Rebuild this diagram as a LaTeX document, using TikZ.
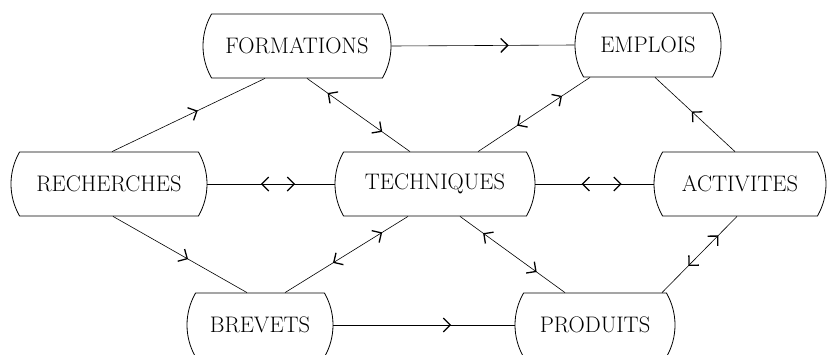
\documentclass[tikz,border=0pt]{standalone}
\usepackage{fontspec}
\usetikzlibrary{arrows.meta,shapes.misc,decorations.markings}

\begin{document}
\begin{tikzpicture}[x=1pt, y=-1pt,
  box/.style={draw, rounded rectangle, rounded rectangle arc length=60, minimum height=64pt, inner sep=2pt, line width=0.8pt, font=\fontsize{22.5}{26}\selectfont},
  link/.style={line width=0.6pt},
  fw/.style={postaction={decorate, decoration={markings, mark=at position #1 with {\arrow[line width=1.3pt]{Straight Barb[length=7pt,width=14pt]}}}}},
  bw/.style={postaction={decorate, decoration={markings, mark=at position #1 with {\arrowreversed[line width=1.3pt]{Straight Barb[length=7pt,width=14pt]}}}}}]
  \useasboundingbox (0,0) rectangle (829,354);
  \node[box, minimum width=192pt] (form) at (297,46) {FORMATIONS};
  \node[box, minimum width=150pt] (empl) at (648,45) {EMPLOIS};
  \node[box, minimum width=200pt] (rech) at (109,184) {RECHERCHES};
  \node[box, minimum width=204pt] (tech) at (435,184) {TECHNIQUES};
  \node[box, minimum width=176pt] (acti) at (740,184) {ACTIVITES};
  \node[box, minimum width=150pt] (brev) at (260,325) {BREVETS};
  \node[box, minimum width=164pt] (prod) at (595,325) {PRODUITS};
  \draw[link, fw=0.64] (form.east) -- (empl.west);
  \draw[link, fw=0.56] ([xshift=3pt]rech.north) -- ([xshift=-32pt]form.south);
  \draw[link, bw=0.2, fw=0.73] ([xshift=10pt]form.south) -- ([xshift=-25pt]tech.north);
  \draw[link, bw=0.35, fw=0.75] ([xshift=43pt]tech.north) -- ([xshift=-58pt]empl.south);
  \draw[link, fw=0.54] ([xshift=-5pt]acti.north) -- ([xshift=7pt]empl.south);
  \draw[link, bw=0.42, fw=0.69] (rech.east) -- (tech.west);
  \draw[link, bw=0.39, fw=0.73] (tech.east) -- (acti.west);
  \draw[link, fw=0.56] ([xshift=4pt]rech.south) -- ([xshift=-13pt]brev.north);
  \draw[link, bw=0.39, fw=0.79] ([xshift=25pt]brev.north) -- ([xshift=-27pt]tech.south);
  \draw[link, bw=0.22, fw=0.73] ([xshift=25pt]tech.south) -- ([xshift=-30pt]prod.north);
  \draw[link, bw=0.25, fw=0.65] ([xshift=-3pt]acti.south) -- ([xshift=67pt]prod.north);
  \draw[link, fw=0.65] (brev.east) -- (prod.west);
\end{tikzpicture}
\end{document}
